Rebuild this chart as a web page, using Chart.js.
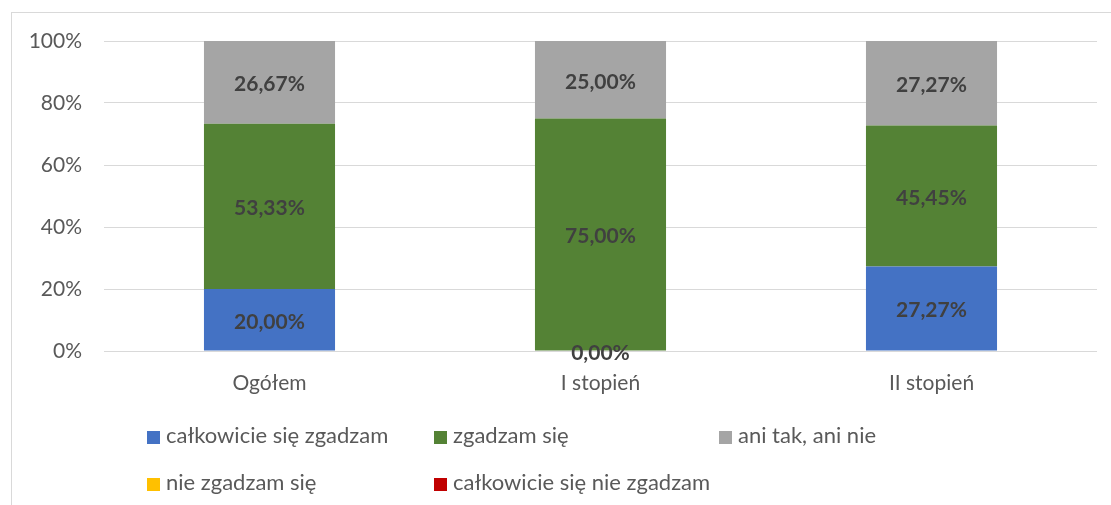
<!DOCTYPE html>
<html>
<head>
<meta charset="utf-8">
<script src="https://cdn.jsdelivr.net/npm/chart.js@4"></script>
<style>
  body { margin: 0; background: #fff; overflow: hidden; }
  #wrap { position: relative; width: 1111px; height: 505px; }
  #frame { position: absolute; left: 11px; top: 12px; width: 1200px; height: 600px; border: 1px solid #d9d9d9; }
  canvas { position: absolute; left: 0; top: 0; }
  .lg { position: absolute; font-family: Lato, sans-serif; font-size: 22px; color: #595959; white-space: nowrap; line-height: 26px; }
  .lg i { display: inline-block; width: 13px; height: 13px; margin-right: 6px; vertical-align: -1px; }
</style>
</head>
<body>
<div id="wrap">
  <div id="frame"></div>
  <canvas id="chart" width="1111" height="505"></canvas>
  <div id="legend"></div>
</div>
<script>
const categories = ["Ogółem", "I stopień", "II stopień"];
const seriesNames = ["całkowicie się zgadzam", "zgadzam się", "ani tak, ani nie", "nie zgadzam się", "całkowicie się nie zgadzam"];
const calkowicieZgadzam = [20.00, 0.00, 27.27];
const zgadzam = [53.33, 75.00, 45.45];
const aniTakAniNie = [26.67, 25.00, 27.27];
const nieZgadzam = [0, 0, 0];
const calkowicieNieZgadzam = [0, 0, 0];
const yTicks = [0, 20, 40, 60, 80, 100];

const colors = ["#4472c4", "#548235", "#a5a5a5", "#ffc000", "#c00000"];
const values = [calkowicieZgadzam, zgadzam, aniTakAniNie, nieZgadzam, calkowicieNieZgadzam];

// legend laid out like the Excel one (3 columns, 2 rows)
const legendPos = [[147, 422], [434, 422], [719, 422], [147, 469], [434, 469]];
const legend = document.getElementById("legend");
seriesNames.forEach((name, i) => {
  const d = document.createElement("div");
  d.className = "lg";
  d.style.left = legendPos[i][0] + "px";
  d.style.top = legendPos[i][1] + "px";
  d.innerHTML = `<i style="background:${colors[i]}"></i>${name}`;
  legend.appendChild(d);
});

const fmt = v => v.toFixed(2).replace(".", ",") + "%";

const barLabels = {
  id: "barLabels",
  afterDatasetsDraw(chart) {
    const ctx = chart.ctx;
    ctx.save();
    ctx.font = "bold 21px Lato";
    ctx.fillStyle = "#404040";
    ctx.textAlign = "center";
    ctx.textBaseline = "middle";
    [0, 1, 2].forEach(di => {
      chart.getDatasetMeta(di).data.forEach((bar, i) => {
        const v = chart.data.datasets[di].data[i];
        ctx.fillText(fmt(v), bar.x, (bar.y + bar.base) / 2 + 2);
      });
    });
    ctx.restore();
  }
};

new Chart(document.getElementById("chart"), {
  type: "bar",
  data: {
    labels: categories,
    datasets: seriesNames.map((name, i) => ({
      label: name,
      data: values[i],
      backgroundColor: colors[i],
      barPercentage: 0.396,
      categoryPercentage: 1
    }))
  },
  options: {
    responsive: false,
    animation: false,
    layout: { padding: { top: 41, right: 14, left: 0, bottom: 0 } },
    plugins: { legend: { display: false }, tooltip: { enabled: false } },
    scales: {
      x: {
        stacked: true,
        grid: { display: false, drawTicks: false },
        border: { display: false },
        ticks: { color: "#595959", font: { family: "Lato", size: 21 }, padding: 20 },
        afterFit: s => { s.height = 154; }
      },
      y: {
        stacked: true,
        min: 0,
        max: 100,
        afterBuildTicks: s => { s.ticks = yTicks.map(v => ({ value: v })); },
        grid: { color: "#d9d9d9", lineWidth: 1, drawTicks: false },
        border: { display: false },
        ticks: { color: "#595959", font: { family: "Lato", size: 21 }, padding: 22, callback: v => v + "%" },
        afterFit: s => { s.width = 104; }
      }
    }
  },
  plugins: [barLabels]
});
</script>
</body>
</html>
